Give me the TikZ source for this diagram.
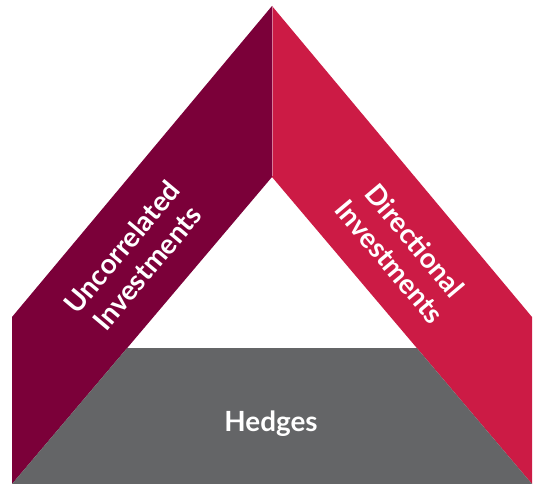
\documentclass[tikz,border=0pt]{standalone}
\usepackage{fontspec}
\newfontfamily\lato{Lato}
\definecolor{maroon}{HTML}{7B0039}
\definecolor{crimson}{HTML}{CC1B45}
\definecolor{slate}{HTML}{646567}
\definecolor{divider}{HTML}{D77A98}
\begin{document}
\begin{tikzpicture}[x=1pt,y=-1pt,
  lbl/.style={text=white,font=\lato\bfseries\fontsize{27.8}{32.7}\selectfont,align=center,inner sep=0pt}]
\useasboundingbox (0,0) rectangle (536,484);
% bands
\fill[maroon] (272,6) -- (12,317) -- (12,484) -- (272,177) -- cycle;
\fill[crimson] (272,6) -- (532,317) -- (532,484) -- (272,177) -- cycle;
\draw[divider,line width=0.6pt] (272,6.5) -- (272,176.5);
% base
\fill[slate] (127.2,348) -- (416.8,348) -- (532,484) -- (12,484) -- cycle;
% labels
\node[lbl,rotate=50] (unc) at (134.5,257.5) {Uncorrelated\\Investments};
\node[lbl,rotate=-50] (dir) at (402.5,251) {Directional\\Investments};
\node[lbl,anchor=base] (hed) at (271,431) {Hedges};
\end{tikzpicture}
\end{document}
